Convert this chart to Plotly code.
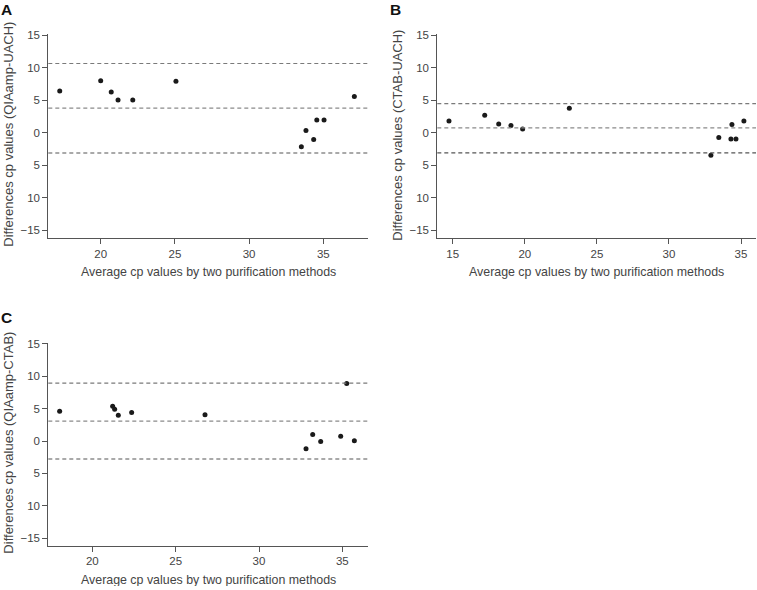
import plotly.graph_objects as go

# ---- data ----
a_x = [17.24, 20.0, 20.71, 21.17, 22.16, 25.07, 33.52, 33.83, 34.35, 34.56, 35.05, 37.09]
a_y = [6.45, 8.0, 6.28, 5.07, 5.07, 7.93, -2.13, 0.35, -1.02, 1.98, 1.98, 5.59]
a_lines = [10.67, 3.81, -3.09]

b_x = [14.74, 17.22, 18.19, 19.04, 19.85, 23.09, 32.91, 33.46, 34.30, 34.65, 34.37, 35.20]
b_y = [1.84, 2.71, 1.37, 1.13, 0.61, 3.78, -3.45, -0.70, -0.92, -0.92, 1.29, 1.84]
b_lines = [4.50, 0.77, -3.06]

c_x = [18.04, 21.22, 21.34, 21.56, 22.36, 26.76, 32.82, 33.22, 33.70, 34.90, 35.72, 35.26]
c_y = [4.60, 5.36, 4.89, 3.98, 4.40, 4.04, -1.21, 1.01, -0.08, 0.73, 0.02, 8.89]
c_lines = [8.93, 3.07, -2.78]

y_tick_vals = [-15, -10, -5, 0, 5, 10, 15]
y_tick_labels = ["\u221215", "10", "5", "0", "5", "10", "15"]
a_x_ticks = [20, 25, 30, 35]
b_x_ticks = [15, 20, 25, 30, 35]
c_x_ticks = [20, 25, 30, 35]

panel_letters = ["A", "B", "C"]
y_titles = ["Differences cp values (QIAamp-UACH)",
            "Differences cp values (CTAB-UACH)",
            "Differences cp values (QIAamp-CTAB)"]
x_title = "Average cp values by two purification methods"

W, H = 757, 590
FONT = "Liberation Sans, Arial, sans-serif"
TICK_COLOR = "#444"

panels = [
    dict(x=a_x, y=a_y, lines=a_lines, xt=a_x_ticks, xr=[16.47, 37.99], yr=[-16.2, 15.17],
         px=[48.3, 367.7], py=[33.5, 239.3]),
    dict(x=b_x, y=b_y, lines=b_lines, xt=b_x_ticks, xr=[13.93, 36.04], yr=[-16.2, 15.17],
         px=[437.3, 756.0], py=[33.5, 239.3]),
    dict(x=c_x, y=c_y, lines=c_lines, xt=c_x_ticks, xr=[17.36, 36.52], yr=[-16.16, 15.2],
         px=[48.3, 367.7], py=[344.5, 549.3]),
]

fig = go.Figure()
shapes = []
annotations = []
line_colors = ["#7a7a7a", "#8a8a8a", "#555555"]

for i, p in enumerate(panels):
    n = "" if i == 0 else str(i + 1)
    xa = "x" + n
    ya = "y" + n
    fig.add_trace(go.Scatter(
        x=p["x"], y=p["y"], mode="markers", xaxis=xa, yaxis=ya,
        marker=dict(color="#1a1a1a", size=5), showlegend=False, hoverinfo="x+y"))
    xdom = [p["px"][0] / W, p["px"][1] / W]
    ydom = [1 - p["py"][1] / H, 1 - p["py"][0] / H]
    axis_common = dict(showline=True, linecolor="#555", linewidth=1, ticks="outside",
                       ticklen=5, tickcolor="#555", showgrid=False, zeroline=False,
                       tickfont=dict(family=FONT, size=11.5, color=TICK_COLOR))
    fig.update_layout(**{
        "xaxis" + n: dict(domain=xdom, range=p["xr"], tickvals=p["xt"], anchor=ya, **axis_common),
        "yaxis" + n: dict(domain=ydom, range=p["yr"], tickvals=y_tick_vals,
                          ticktext=y_tick_labels, anchor=xa, **axis_common),
    })
    for k, v in enumerate(p["lines"]):
        shapes.append(dict(type="line", xref=xa + " domain", yref=ya, x0=0, x1=1, y0=v, y1=v,
                           line=dict(color=line_colors[k], width=1.2, dash="4px,3px")))
    # panel letter
    annotations.append(dict(text="<b>%s</b>" % panel_letters[i], xref="paper", yref="paper",
                            x=(p["px"][0] - 41.8) / W, y=1 - (p["py"][0] - 25) / H,
                            xanchor="center", yanchor="middle", showarrow=False,
                            font=dict(family=FONT, size=15.5, color="#111")))
    # y title
    annotations.append(dict(text=y_titles[i], xref="paper", yref="paper",
                            x=(p["px"][0] - 39.3) / W, y=1 - ((p["py"][0] + p["py"][1]) / 2 - 1.5) / H,
                            xanchor="center", yanchor="middle", textangle=-90, showarrow=False,
                            font=dict(family=FONT, size=13, color=TICK_COLOR)))
    # x title
    annotations.append(dict(text=x_title, xref="paper", yref="paper",
                            x=(p["px"][0] + p["px"][1]) / 2 / W, y=1 - (p["py"][1] + 34.5) / H,
                            xanchor="center", yanchor="middle", showarrow=False,
                            font=dict(family=FONT, size=12.4, color=TICK_COLOR)))

fig.update_layout(width=W, height=H, margin=dict(l=0, r=0, t=0, b=0),
                  paper_bgcolor="white", plot_bgcolor="white",
                  shapes=shapes, annotations=annotations,
                  font=dict(family=FONT, color=TICK_COLOR))
fig.write_html(
    "out.html",
    config={"displayModeBar": False},
    post_script=(
        "document.body.style.margin='0';document.body.style.padding='0';"
        "var d=document.getElementById('{plot_id}');"
        "d.style.position='fixed';d.style.top='-4px';d.style.left='0px';"
    ),
)
